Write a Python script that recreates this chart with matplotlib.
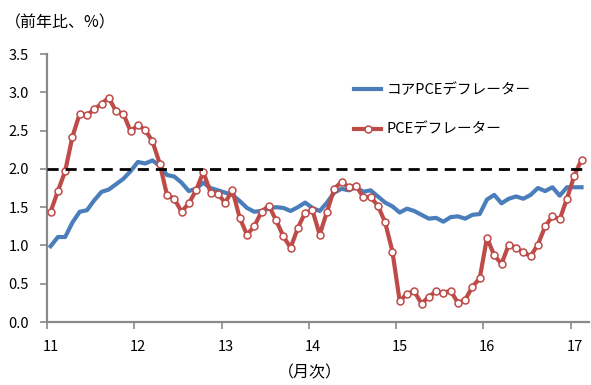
import matplotlib
matplotlib.use("Agg")
import matplotlib.pyplot as plt
import matplotlib.transforms as mtransforms
import numpy as np
import pandas as pd

plt.rcParams['font.family'] = ['Noto Sans CJK JP', 'DejaVu Sans']

# Monthly series, Jan 2011 - Feb 2017 (year-on-year %)
months = pd.date_range('2011-01-01', periods=74, freq='MS')

core_pce = [
    0.99, 1.11, 1.11, 1.30, 1.44, 1.46, 1.59, 1.70, 1.73, 1.80, 1.87, 1.97,
    2.09, 2.07, 2.11, 2.04, 1.92, 1.90, 1.82, 1.71, 1.74, 1.82, 1.75, 1.72,
    1.69, 1.66, 1.58, 1.49, 1.44, 1.45, 1.48, 1.50, 1.49, 1.45, 1.50, 1.56,
    1.49, 1.45, 1.56, 1.69, 1.74, 1.72, 1.76, 1.70, 1.72, 1.64, 1.56, 1.51,
    1.43, 1.48, 1.45, 1.40, 1.35, 1.36, 1.31, 1.37, 1.38, 1.35, 1.40, 1.41,
    1.60, 1.66, 1.55, 1.61, 1.64, 1.61, 1.66, 1.75, 1.71, 1.76, 1.65, 1.76,
    1.76, 1.76,
]

pce = [
    1.44, 1.71, 1.97, 2.42, 2.72, 2.70, 2.78, 2.85, 2.93, 2.75, 2.72, 2.49,
    2.57, 2.51, 2.36, 2.07, 1.66, 1.61, 1.44, 1.55, 1.72, 1.96, 1.69, 1.67,
    1.56, 1.72, 1.36, 1.14, 1.25, 1.44, 1.52, 1.33, 1.12, 0.97, 1.23, 1.43,
    1.46, 1.14, 1.44, 1.74, 1.83, 1.76, 1.78, 1.63, 1.63, 1.52, 1.30, 0.92,
    0.27, 0.37, 0.40, 0.24, 0.33, 0.40, 0.38, 0.41, 0.25, 0.29, 0.46, 0.57,
    1.10, 0.87, 0.76, 1.01, 0.97, 0.91, 0.86, 1.01, 1.25, 1.38, 1.34, 1.61,
    1.91, 2.12,
]

target = 2.0
year_ticks = [11, 12, 13, 14, 15, 16, 17]
year_labels = ['11', '12', '13', '14', '15', '16', '17']
y_ticks = [0.0, 0.5, 1.0, 1.5, 2.0, 2.5, 3.0, 3.5]

labels_series = ['コアPCEデフレーター', 'PCEデフレーター']

# each month plotted at its mid-point on a two-digit-year axis
x = (months.year % 100) + (months.month - 0.5) / 12.0

blue = '#4A7EBB'
red = '#BE4B48'
axis_gray = '#898989'

fig = plt.figure(figsize=(5.91, 3.85), dpi=100)
ax = fig.add_axes([0.0795, 0.1636, 0.917, 0.6961])

ax.plot(x, core_pce, color=blue, lw=3.0, solid_joinstyle='round',
        label=labels_series[0], zorder=3)
ax.plot(x, pce, color=red, lw=3.0, solid_joinstyle='round',
        marker='o', markersize=5, markerfacecolor='white',
        markeredgecolor=red, markeredgewidth=1.1,
        label=labels_series[1], zorder=4)
ax.axhline(target, color='black', lw=2.0, dashes=(4, 2.5), zorder=5)

ax.set_xlim(11, 17.21)
ax.set_ylim(0, 3.5)
ax.set_xticks(year_ticks)
ax.set_xticklabels(year_labels)
ax.set_yticks(y_ticks)
ax.set_yticklabels([f'{v:.1f}' for v in y_ticks])

for side in ('top', 'right'):
    ax.spines[side].set_visible(False)
for side in ('left', 'bottom'):
    ax.spines[side].set_color(axis_gray)
    ax.spines[side].set_linewidth(1.6)

ax.tick_params(axis='both', colors=axis_gray, labelcolor='black',
               labelsize=10.5, width=1.2, length=5, direction='out')
ax.tick_params(axis='x', pad=8)
ax.tick_params(axis='y', pad=8)

# year labels sit slightly to the right of their tick marks
offset = mtransforms.ScaledTranslation(4 / 100, 0, fig.dpi_scale_trans)
for lbl in ax.get_xticklabels():
    lbl.set_transform(lbl.get_transform() + offset)

leg = ax.legend(loc='upper left', bbox_to_anchor=(0.543, 0.94),
                frameon=False, fontsize=10.5, handlelength=1.8,
                handletextpad=0.4, labelspacing=1.75)

fig.text(0.008, 0.94, '（前年比、%）', fontsize=11.5, ha='left', va='center')
fig.text(0.525, 0.032, '（月次）', fontsize=11.5, ha='center', va='center')

fig.savefig('out.png', dpi=100)
